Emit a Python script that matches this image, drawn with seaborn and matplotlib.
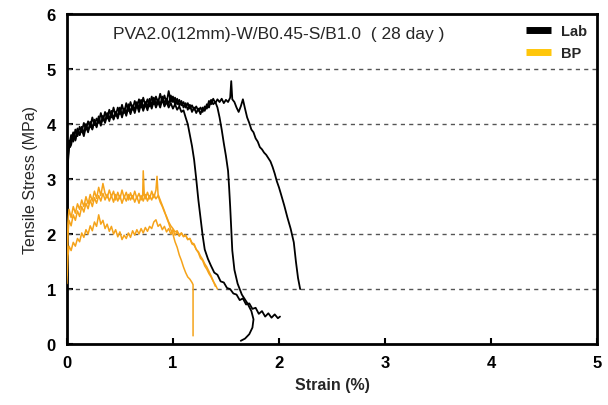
import matplotlib
matplotlib.use("Agg")
import matplotlib.pyplot as plt
from matplotlib.lines import Line2D
import seaborn as sns
import pandas as pd

sns.set_theme(style="white")
plt.rcParams['font.family'] = ['Liberation Sans', 'DejaVu Sans']

# ---------------- data ----------------
lab1_x = [0, 0.005, 0.01, 0.02, 0.03,
          0.04, 0.06, 0.08, 0.10, 0.12, 0.14, 0.16, 0.18, 0.20, 0.22, 0.24, 0.26, 0.28, 0.30,
          0.32, 0.34, 0.36, 0.38, 0.40, 0.42, 0.44, 0.46, 0.48, 0.50, 0.52, 0.54, 0.56, 0.58,
          0.60, 0.62, 0.64, 0.66, 0.68, 0.70, 0.72, 0.74, 0.76, 0.78, 0.80, 0.82, 0.84, 0.86,
          0.88, 0.90, 0.92, 0.94, 0.96, 0.98, 1.00, 1.02, 1.04, 1.06, 1.08, 1.10,
          1.12, 1.14, 1.16, 1.18, 1.20, 1.22, 1.24, 1.26, 1.28, 1.30, 1.33, 1.36,
          1.39, 1.42, 1.45, 1.48, 1.51, 1.54, 1.57, 1.60, 1.63, 1.66, 1.69, 1.72, 1.75, 1.78,
          1.81, 1.84, 1.87, 1.90, 1.93, 1.96, 1.99, 2.01]
lab1_y = [0, 2.8, 3.3, 3.55, 3.65,
          3.72, 3.85, 3.7, 3.9, 3.8, 3.95, 3.83, 4.0, 3.88, 3.98, 3.9, 4.08, 3.94, 4.1,
          3.97, 4.15, 4.02, 4.18, 4.05, 4.22, 4.08, 4.2, 4.1, 4.26, 4.12, 4.28, 4.15, 4.3,
          4.18, 4.32, 4.2, 4.35, 4.22, 4.38, 4.24, 4.36, 4.25, 4.4, 4.28, 4.42, 4.3, 4.4,
          4.3, 4.45, 4.32, 4.4, 4.3, 4.38, 4.28, 4.36, 4.26, 4.32, 4.22, 4.25,
          4.12, 4.0, 3.8, 3.6, 3.35, 3.0, 2.62, 2.3, 1.98, 1.72, 1.55, 1.42,
          1.3, 1.26, 1.14, 1.12, 1.02, 1.0, 0.92, 0.9, 0.8, 0.83, 0.72, 0.74, 0.64, 0.66,
          0.55, 0.6, 0.5, 0.56, 0.48, 0.54, 0.47, 0.5]

lab2_x = [0, 0.005, 0.01, 0.02, 0.03,
          0.04, 0.06, 0.08, 0.10, 0.12, 0.14, 0.16, 0.18, 0.20, 0.22, 0.24, 0.26, 0.28, 0.30,
          0.32, 0.34, 0.36, 0.38, 0.40, 0.42, 0.44, 0.46, 0.48, 0.50, 0.52, 0.54, 0.56, 0.58,
          0.60, 0.62, 0.64, 0.66, 0.68, 0.70, 0.72, 0.74, 0.76, 0.78, 0.80, 0.82, 0.84, 0.86,
          0.88, 0.90, 0.92, 0.94, 0.96, 0.98, 1.00, 1.02, 1.04, 1.06, 1.08, 1.10, 1.12, 1.14,
          1.16, 1.18, 1.20, 1.22, 1.24, 1.26, 1.28, 1.30, 1.32, 1.34, 1.36, 1.38, 1.40, 1.42,
          1.44, 1.46, 1.48, 1.50, 1.52, 1.53, 1.54, 1.55, 1.56, 1.58, 1.61, 1.65, 1.70, 1.74,
          1.76, 1.75, 1.72, 1.68, 1.64]
lab2_y = [0, 3.0, 3.4, 3.62, 3.7,
          3.8, 3.68, 3.9, 3.78, 3.95, 3.86, 4.02, 3.9, 4.05, 3.95, 4.12, 3.98, 4.1, 4.02,
          4.2, 4.06, 4.22, 4.1, 4.26, 4.12, 4.3, 4.15, 4.3, 4.18, 4.35, 4.2, 4.38, 4.24,
          4.4, 4.26, 4.42, 4.3, 4.45, 4.3, 4.48, 4.34, 4.45, 4.32, 4.5, 4.36, 4.5, 4.38,
          4.55, 4.4, 4.52, 4.38, 4.6, 4.4, 4.5, 4.36, 4.46, 4.34, 4.42, 4.3, 4.38, 4.26,
          4.35, 4.22, 4.3, 4.2, 4.28, 4.18, 4.3, 4.24, 4.36, 4.3, 4.44, 4.36, 4.4, 4.3,
          4.12, 3.9, 3.65, 3.42, 3.15, 2.85, 2.5, 2.1, 1.7, 1.35, 1.1, 0.9, 0.75, 0.6,
          0.45, 0.3, 0.18, 0.1, 0.06]

lab3_x = [0, 0.005, 0.01, 0.02, 0.03,
          0.04, 0.06, 0.08, 0.10, 0.12, 0.14, 0.16, 0.18, 0.20, 0.22, 0.24, 0.26, 0.28, 0.30,
          0.32, 0.34, 0.36, 0.38, 0.40, 0.42, 0.44, 0.46, 0.48, 0.50, 0.52, 0.54, 0.56, 0.58,
          0.60, 0.62, 0.64, 0.66, 0.68, 0.70, 0.72, 0.74, 0.76, 0.78, 0.80, 0.82, 0.84, 0.86,
          0.88, 0.90, 0.92, 0.94, 0.96, 0.98, 1.00, 1.02, 1.04, 1.06, 1.08, 1.10, 1.12, 1.14,
          1.16, 1.18, 1.20, 1.22, 1.24, 1.26, 1.28, 1.30, 1.32, 1.34, 1.36, 1.38, 1.40, 1.42,
          1.44, 1.46, 1.48, 1.50, 1.52, 1.54,
          1.55, 1.56, 1.58, 1.60, 1.62, 1.64, 1.66, 1.68, 1.70, 1.72, 1.74, 1.76, 1.78, 1.80,
          1.82, 1.84, 1.86, 1.88, 1.90, 1.92, 1.94, 1.96, 1.98, 2.00, 2.02, 2.05, 2.08, 2.11,
          2.14, 2.16, 2.18, 2.20]
lab3_y = [0, 3.2, 3.5, 3.7, 3.58,
          3.62, 3.82, 3.72, 3.92, 3.8, 3.9, 3.78, 3.96, 3.85, 4.04, 3.92, 4.05, 3.96, 4.14,
          4.0, 4.12, 4.04, 4.2, 4.08, 4.24, 4.1, 4.22, 4.14, 4.3, 4.16, 4.28, 4.2, 4.36,
          4.22, 4.34, 4.26, 4.4, 4.28, 4.44, 4.3, 4.4, 4.32, 4.46, 4.34, 4.48, 4.36, 4.45,
          4.35, 4.5, 4.38, 4.46, 4.36, 4.52, 4.4, 4.48, 4.36, 4.44, 4.34, 4.4, 4.3, 4.38,
          4.28, 4.34, 4.26, 4.32, 4.24, 4.3, 4.22, 4.32, 4.28, 4.42, 4.36, 4.46, 4.38, 4.45,
          4.4, 4.46, 4.38, 4.44, 4.4, 4.48,
          4.78, 4.45, 4.4, 4.3, 4.22, 4.32, 4.45, 4.28, 4.12, 4.02, 3.9, 3.85, 3.74, 3.68,
          3.58, 3.54, 3.48, 3.44, 3.38, 3.32, 3.22, 3.1, 2.96, 2.85, 2.72, 2.52, 2.3, 2.1,
          1.85, 1.5, 1.2, 1.0]

bpa_x = [0, 0.01, 0.02, 0.04, 0.06, 0.08, 0.10, 0.12, 0.14, 0.16, 0.18, 0.20, 0.22, 0.24,
         0.26, 0.28, 0.30, 0.32, 0.34, 0.36, 0.38, 0.40, 0.42, 0.44, 0.46, 0.48, 0.50, 0.52,
         0.54, 0.56, 0.58, 0.60, 0.62, 0.64, 0.66, 0.68, 0.70, 0.715, 0.72, 0.73, 0.74, 0.76,
         0.78, 0.80, 0.82, 0.84, 0.85, 0.86, 0.88, 0.90, 0.92, 0.94, 0.96, 0.98, 1.00, 1.02,
         1.04, 1.06, 1.08, 1.10, 1.12, 1.14, 1.16, 1.18, 1.19, 1.19]
bpa_y = [1.25, 2.2, 2.45, 2.3, 2.5, 2.38, 2.55, 2.45, 2.62, 2.5, 2.68, 2.55, 2.72, 2.6,
         2.78, 2.65, 2.85, 2.7, 2.92, 2.74, 2.66, 2.8, 2.68, 2.78, 2.62, 2.76, 2.64, 2.8,
         2.66, 2.76, 2.62, 2.75, 2.64, 2.78, 2.65, 2.74, 2.62, 2.7, 3.15, 2.7, 2.64, 2.76,
         2.64, 2.78, 2.66, 2.8, 3.05, 2.72, 2.62, 2.52, 2.42, 2.3, 2.2, 2.08, 2.0, 1.86,
         1.76, 1.62, 1.52, 1.4, 1.3, 1.22, 1.18, 1.12, 1.08, 0.15]

bpb_x = [0, 0.01, 0.02, 0.04, 0.06, 0.08, 0.10, 0.12, 0.14, 0.16, 0.18, 0.20, 0.22, 0.24,
         0.26, 0.28, 0.30, 0.32, 0.34, 0.36, 0.38, 0.40, 0.42, 0.44, 0.46, 0.48, 0.50, 0.52,
         0.54, 0.56, 0.58, 0.60, 0.62, 0.64, 0.66, 0.68, 0.70, 0.72, 0.74, 0.76, 0.78, 0.80,
         0.82, 0.84, 0.86, 0.88, 0.90, 0.92, 0.94, 0.96, 0.98, 1.00, 1.02, 1.04, 1.06, 1.08,
         1.10, 1.12, 1.14, 1.16, 1.18, 1.20, 1.22, 1.24, 1.26, 1.28, 1.30, 1.32, 1.34, 1.36,
         1.38, 1.40]
bpb_y = [1.4, 2.0, 2.25, 2.15, 2.35, 2.25, 2.42, 2.32, 2.5, 2.4, 2.56, 2.46, 2.62, 2.5,
         2.66, 2.56, 2.7, 2.6, 2.74, 2.62, 2.72, 2.6, 2.7, 2.58, 2.72, 2.6, 2.7, 2.56,
         2.68, 2.6, 2.72, 2.62, 2.7, 2.58, 2.68, 2.56, 2.7, 2.6, 2.72, 2.6, 2.7, 2.62,
         2.72, 2.64, 2.7, 2.58, 2.5, 2.4, 2.32, 2.22, 2.15, 2.1, 2.04, 2.06, 1.98, 2.02,
         1.96, 1.98, 1.9, 1.92, 1.82, 1.8, 1.72, 1.68, 1.6, 1.54, 1.46, 1.4, 1.32, 1.24,
         1.15, 1.05]

bpc_x = [0, 0.01, 0.02, 0.04, 0.06, 0.08, 0.10, 0.12, 0.14, 0.16, 0.18, 0.20, 0.22, 0.24,
         0.26, 0.28, 0.30, 0.32, 0.34, 0.36, 0.38, 0.40, 0.42, 0.44, 0.46, 0.48, 0.50, 0.52,
         0.54, 0.56, 0.58, 0.60, 0.62, 0.64, 0.66, 0.68, 0.70, 0.72, 0.74, 0.76, 0.78, 0.80,
         0.82, 0.84, 0.86, 0.88, 0.90, 0.92, 0.94, 0.96, 0.98, 1.00, 1.02, 1.04, 1.06, 1.08,
         1.10, 1.12, 1.14, 1.16, 1.18, 1.20, 1.22, 1.24, 1.26, 1.28, 1.30, 1.32, 1.34, 1.36,
         1.38, 1.40, 1.42]
bpc_y = [1.1, 1.6, 1.78, 1.7, 1.85, 1.78, 1.92, 1.86, 2.02, 1.94, 2.08, 2.0, 2.15, 2.06,
         2.22, 2.14, 2.35, 2.18, 2.25, 2.1, 2.18, 2.05, 2.14, 2.0, 2.08, 1.95, 2.04, 1.9,
         1.98, 1.92, 2.02, 1.94, 2.06, 1.98, 2.08, 2.0, 2.1, 2.02, 2.12, 2.05, 2.14, 2.1,
         2.22, 2.26, 2.14, 2.18, 2.08, 2.14, 2.04, 2.1, 2.0, 2.08, 1.98, 2.04, 1.96, 2.02,
         1.95, 1.98, 1.9, 1.92, 1.84, 1.82, 1.72, 1.66, 1.56, 1.52, 1.42, 1.36, 1.28, 1.22,
         1.14, 1.08, 1.0]

curves = [
    ("Lab", "Lab-1", lab1_x, lab1_y),
    ("Lab", "Lab-2", lab2_x, lab2_y),
    ("Lab", "Lab-3", lab3_x, lab3_y),
    ("BP", "BP-1", bpa_x, bpa_y),
    ("BP", "BP-2", bpb_x, bpb_y),
    ("BP", "BP-3", bpc_x, bpc_y),
]
legend_labels = ["Lab", "BP"]
title_text = "PVA2.0(12mm)-W/B0.45-S/B1.0  ( 28 day )"
x_ticks = [0, 1, 2, 3, 4, 5]
y_ticks = [0, 1, 2, 3, 4, 5, 6]

# ---------------- drawing ----------------
colors = {"Lab": "#000000", "BP": "#F5A31A"}
legend_colors = {"Lab": "#000000", "BP": "#FFC60A"}

fig = plt.figure(figsize=(6.08, 4.06), dpi=100)
ax = fig.add_axes([0.110, 0.150, 0.872, 0.813])

for grp, name, xs, ys in curves:
    df = pd.DataFrame({"strain": xs, "stress": ys})
    sns.lineplot(data=df, x="strain", y="stress", sort=False, estimator=None,
                 color=colors[grp], lw=1.3 if grp == "Lab" else 1.1, ax=ax, zorder=3)

ax.set_xlim(0, 5)
ax.set_ylim(0, 6)
ax.set_xticks(x_ticks)
ax.set_yticks(y_ticks)
ax.set_xticklabels([str(t) for t in x_ticks], fontsize=12, fontweight="bold")
ax.set_yticklabels([str(t) for t in y_ticks], fontsize=12, fontweight="bold")
ax.tick_params(direction="in", length=4, width=1.5, colors="black", pad=8,
               bottom=True, left=True)
for y in [1, 2, 3, 4, 5]:
    ax.axhline(y, color="#555555", lw=1.0, ls=(0, (3, 3)), zorder=1)
for s in ax.spines.values():
    s.set_linewidth(2)
    s.set_color("black")

ax.set_xlabel("Strain (%)", fontsize=11.5, fontweight="bold", labelpad=5)
ax.set_ylabel("Tensile Stress (MPa)", fontsize=11.5, labelpad=6)

ax.text(0.40, 0.94, title_text, transform=ax.transAxes, ha="center", va="center",
        fontsize=12.5)

handles = [Line2D([0], [0], color=legend_colors[g], lw=5, solid_capstyle="butt")
           for g in legend_labels]
leg = ax.legend(handles, legend_labels, loc="upper right", frameon=False,
                handlelength=1.7, fontsize=10.5, borderaxespad=0.3,
                bbox_to_anchor=(1.0, 1.0), labelspacing=0.55, handletextpad=0.7)
for t in leg.get_texts():
    t.set_fontweight("bold")

fig.savefig("out.png", dpi=100)
